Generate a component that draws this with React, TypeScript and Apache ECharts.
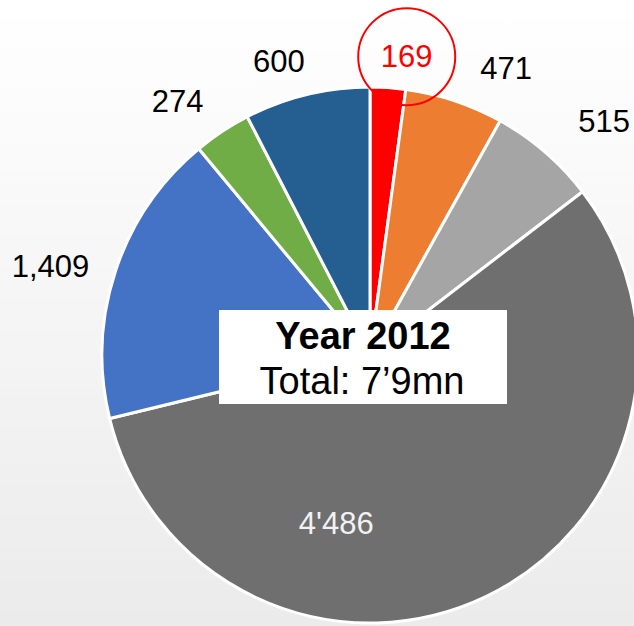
import React, { useEffect, useRef } from 'react';
import * as echarts from 'echarts';

const values = [169, 471, 515, 4486, 1409, 274, 600];
const valueLabels = ['169', '471', '515', "4'486", '1,409', '274', '600'];
const colors = ['#FF0000', '#ED7D31', '#A5A5A5', '#6F6F6F', '#4472C4', '#70AD47', '#255E91'];
const titleText = 'Year 2012';
const totalText = 'Total: 7\u20199mn';

const FONT = '"Liberation Sans", Arial, sans-serif';

// small nudges of the data labels (label placement only)
const labelNudges: Array<[number, number]> = [
  [-35, 3],
  [12, 0],
  [8, -5],
  [-93, 45],
  [9, 6],
  [3, -2],
  [9, 0],
];

export default function App() {
  const ref = useRef<HTMLDivElement>(null);
  useEffect(() => {
    const chart = echarts.init(ref.current!, null, { renderer: 'svg' });
    chart.setOption({
      animation: false,
      backgroundColor: new echarts.graphic.LinearGradient(0, 0, 0, 1, [
        { offset: 0, color: '#ffffff' },
        { offset: 1, color: '#ebebeb' },
      ]),
      series: [
        {
          type: 'pie',
          center: [370, 355],
          radius: 268,
          startAngle: 90,
          clockwise: true,
          avoidLabelOverlap: false,
          itemStyle: { borderColor: '#ffffff', borderWidth: 3 },
          label: {
            show: true,
            position: 'outside',
            fontFamily: FONT,
            fontSize: 31,
            color: '#000000',
            distanceToLabelLine: 3,
            formatter: (p: any) => valueLabels[p.dataIndex],
          },
          labelLine: { show: false, length: 34, length2: 0 },
          labelLayout: (p: any) => {
            const n = labelNudges[p.dataIndex];
            return n ? { dx: n[0], dy: n[1] } : {};
          },
          data: values.map((v, i) => {
            const item: any = { value: v, name: valueLabels[i], itemStyle: { color: colors[i] } };
            if (i === 0) {
              item.label = {
                formatter: (p: any) => '{c|' + valueLabels[p.dataIndex] + '}',
                rich: {
                  c: {
                    fontFamily: FONT,
                    fontSize: 31,
                    color: '#FF0000',
                    width: 97,
                    height: 97,
                    lineHeight: 97,
                    align: 'center',
                    borderColor: '#FF0000',
                    borderWidth: 2,
                    borderRadius: 50,
                  },
                },
              };
            }
            if (i === 3) {
              item.label = { position: 'inside', color: '#f2f2f2' };
            }
            return item;
          }),
        },
      ],
      graphic: [
        {
          type: 'rect',
          left: 219,
          top: 310,
          shape: { width: 288, height: 94 },
          style: { fill: '#ffffff' },
          z: 100,
        },
        {
          type: 'text',
          x: 363,
          y: 336,
          z: 101,
          style: {
            text: titleText,
            fontFamily: FONT,
            fontSize: 38,
            fontWeight: 'bold',
            fill: '#000000',
            align: 'center',
            verticalAlign: 'middle',
          },
        },
        {
          type: 'text',
          x: 362,
          y: 381,
          z: 101,
          style: {
            text: totalText,
            fontFamily: FONT,
            fontSize: 38,
            fill: '#000000',
            align: 'center',
            verticalAlign: 'middle',
          },
        },
      ],
    });
    return () => chart.dispose();
  }, []);
  return (
    <div
      ref={ref}
      style={{ position: 'fixed', left: 0, top: 0, width: 634, height: 626 }}
    />
  );
}
